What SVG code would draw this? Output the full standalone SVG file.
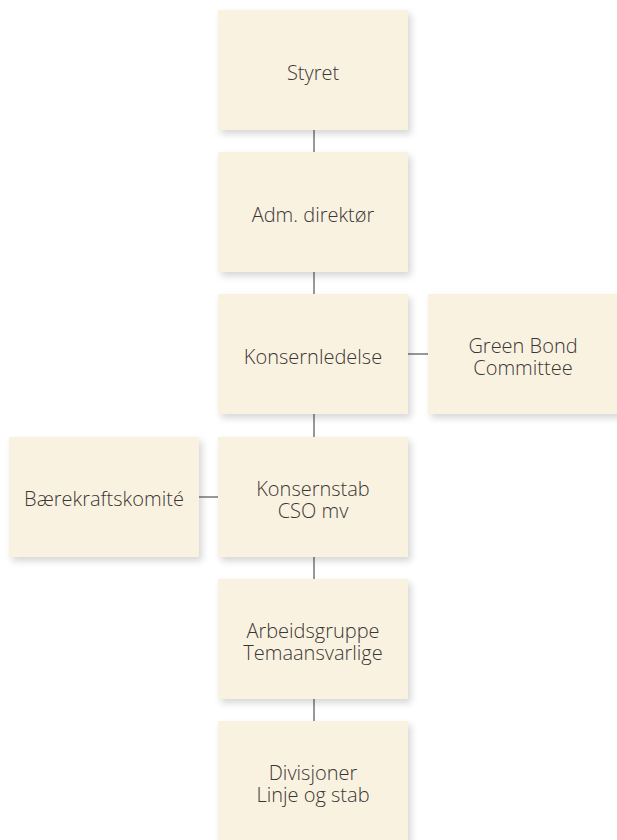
<svg xmlns="http://www.w3.org/2000/svg" width="617" height="840" viewBox="0 0 617 840">
<defs>
<filter id="sh" x="-10%" y="-10%" width="130%" height="130%">
<feDropShadow dx="3" dy="4" stdDeviation="3.5" flood-color="#000" flood-opacity="0.16"/>
</filter>
<style>
.box{fill:#FAF2E1;filter:url(#sh);}
.t{font-family:"Open Sans","Liberation Sans",sans-serif;font-weight:300;font-size:20px;fill:#3a3634;text-anchor:middle;}
.c{stroke:#333;stroke-width:1;fill:none;}
</style>
</defs>
<rect width="617" height="840" fill="#fff"/>
<g id="connectors">
<line class="c" x1="314" y1="130" x2="314" y2="152"/>
<line class="c" x1="314" y1="272" x2="314" y2="294"/>
<line class="c" x1="314" y1="414" x2="314" y2="437"/>
<line class="c" x1="314" y1="557" x2="314" y2="579"/>
<line class="c" x1="314" y1="699" x2="314" y2="721"/>
<line class="c" x1="408" y1="354" x2="428" y2="354"/>
<line class="c" x1="199" y1="497" x2="218" y2="497"/>
</g>
<g id="styret"><rect class="box" x="218" y="10" width="190" height="120"/><text class="t" x="313" y="80">Styret</text></g>
<g id="adm"><rect class="box" x="218" y="152" width="190" height="120"/><text class="t" x="313" y="222">Adm. direktør</text></g>
<g id="konsernledelse"><rect class="box" x="218" y="294" width="190" height="120"/><text class="t" x="313" y="364">Konsernledelse</text></g>
<g id="greenbond"><rect class="box" x="428" y="294" width="192" height="120"/><text class="t" x="523" y="353">Green Bond<tspan x="523" dy="22">Committee</tspan></text></g>
<g id="konsernstab"><rect class="box" x="218" y="437" width="190" height="120"/><text class="t" x="313" y="496">Konsernstab<tspan x="313" dy="22">CSO mv</tspan></text></g>
<g id="baerekraft"><rect class="box" x="9" y="437" width="190" height="120"/><text class="t" x="104" y="506">Bærekraftskomité</text></g>
<g id="arbeidsgruppe"><rect class="box" x="218" y="579" width="190" height="120"/><text class="t" x="313" y="638">Arbeidsgruppe<tspan x="313" dy="22">Temaansvarlige</tspan></text></g>
<g id="divisjoner"><rect class="box" x="218" y="721" width="190" height="122"/><text class="t" x="313" y="780">Divisjoner<tspan x="313" dy="22">Linje og stab</tspan></text></g>
</svg>
